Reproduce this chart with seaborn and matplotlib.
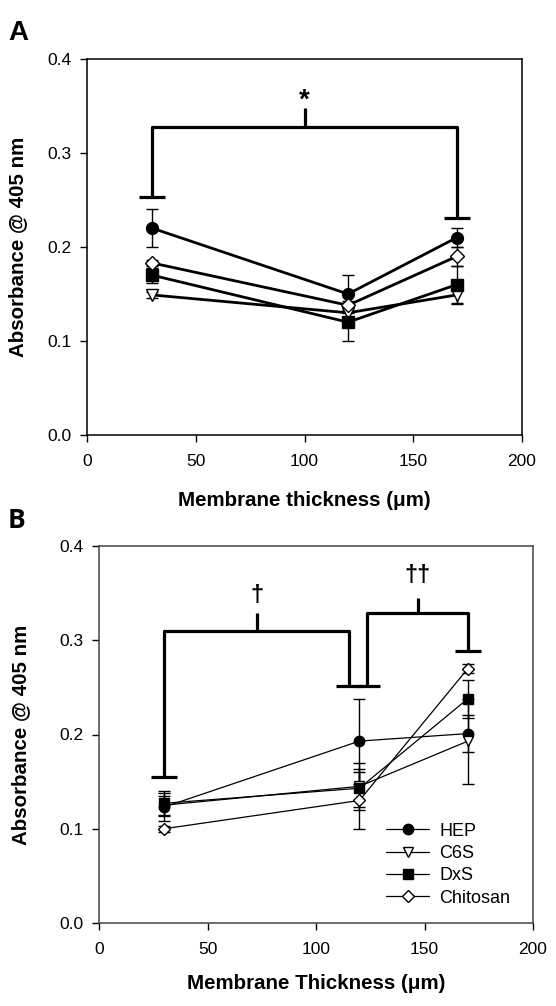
import matplotlib
matplotlib.use("Agg")
import matplotlib.pyplot as plt
import seaborn as sns
import numpy as np
import pandas as pd

# ---------------- data ----------------
thickness = [30, 120, 170]
series_names = ["HEP", "C6S", "DxS", "Chitosan"]

# Panel A values
a_hep = [0.220, 0.150, 0.210]
a_c6s = [0.149, 0.130, 0.149]
a_dxs = [0.170, 0.120, 0.160]
a_chi = [0.183, 0.138, 0.190]
a_hep_err = [0.020, 0.020, 0.010]
a_c6s_err = [0.003, 0.005, 0.010]
a_dxs_err = [0.008, 0.020, 0.020]
a_chi_err = [0.003, 0.005, 0.010]

# Panel B values
b_hep = [0.123, 0.193, 0.201]
b_c6s = [0.125, 0.145, 0.193]
b_dxs = [0.127, 0.143, 0.238]
b_chi = [0.100, 0.130, 0.270]
b_hep_err = [0.015, 0.045, 0.020]
b_c6s_err = [0.010, 0.025, 0.045]
b_dxs_err = [0.013, 0.020, 0.020]
b_chi_err = [0.003, 0.030, 0.005]

# significance brackets:
# (x_left, x_right, y_left_cap, y_right_cap, y_top, y_tick, label, label_y)
a_brackets = [(30, 170, 0.253, 0.231, 0.328, 0.348, "*", 0.356)]
b_brackets = [(30, 115.4, 0.155, 0.251, 0.310, 0.329, "\u2020", 0.347),
              (123.7, 170, 0.251, 0.289, 0.329, 0.345, "\u2020\u2020", 0.369)]

x_ticks = [0, 50, 100, 150, 200]
y_ticks = [0.0, 0.1, 0.2, 0.3, 0.4]

# ---------------- style ----------------
sns.set_theme(style="ticks")
plt.rcParams['font.family'] = ['Liberation Sans', 'DejaVu Sans']
for k in ['text.color', 'axes.labelcolor', 'xtick.color', 'ytick.color']:
    plt.rcParams[k] = 'black'

markers = {"HEP": ("o", "black"), "C6S": ("v", "white"),
           "DxS": ("s", "black"), "Chitosan": ("D", "white")}

fig = plt.figure(figsize=(5.56, 10.06), dpi=100)
axA = fig.add_axes([87/556, 1-435/1006, 435/556, 376/1006])
axB = fig.add_axes([99/556, 1-923/1006, 434/556, 377/1006])


def draw_panel(ax, vals, errs, lw, ms, elw, cap):
    for name in series_names:
        y = vals[name]
        e = errs[name]
        mk, fc = markers[name]
        ax.errorbar(thickness, y, yerr=e, fmt="none", ecolor="black",
                    elinewidth=elw, capsize=cap, capthick=elw, zorder=2)
        df = pd.DataFrame({"x": thickness, "y": y})
        msize = ms * (0.85 if mk == "D" else 1.0)
        sns.lineplot(data=df, x="x", y="y", ax=ax, color="black", lw=lw,
                     marker=mk, markersize=msize, markerfacecolor=fc,
                     markeredgecolor="black", markeredgewidth=1.0,
                     label=name, zorder=3, legend=False)


def draw_brackets(ax, brackets, caphalf, fs):
    for (xl, xr, yl, yr, yt, ytick, lab, ylab) in brackets:
        kw = dict(color="black", lw=2.3, solid_capstyle="butt", zorder=4)
        ax.plot([xl, xl, xr, xr], [yl, yt, yt, yr], **kw)
        ax.plot([xl - caphalf, xl + caphalf], [yl, yl], **kw)
        ax.plot([xr - caphalf, xr + caphalf], [yr, yr], **kw)
        xm = (xl + xr) / 2
        ax.plot([xm, xm], [yt, ytick], **kw)
        ax.text(xm, ylab, lab, ha="center", va="center",
                fontsize=fs, fontweight="bold", color="black")


def style_axes(ax, xlabel, spine_col, ylx, xly):
    ax.set_xlim(0, 200)
    ax.set_ylim(0, 0.4)
    ax.set_xticks(x_ticks)
    ax.set_yticks(y_ticks)
    ax.set_yticklabels([f"{v:.1f}" for v in y_ticks])
    ax.tick_params(axis="both", direction="out", length=5, width=1,
                   labelsize=12.5, colors="black")
    ax.tick_params(axis="x", pad=9)
    ax.tick_params(axis="y", pad=6)
    for s in ax.spines.values():
        s.set_visible(True)
        s.set_color(spine_col)
        s.set_linewidth(1.1)
    ax.set_xlabel(xlabel, fontsize=14.8, fontweight="bold", color="black")
    ax.set_ylabel("Absorbance @ 405 nm", fontsize=14.8, fontweight="bold",
                  color="black")
    ax.yaxis.set_label_coords(ylx, 0.5)
    ax.xaxis.set_label_coords(0.5, xly)
    ax.set_facecolor("white")


valsA = dict(zip(series_names, [a_hep, a_c6s, a_dxs, a_chi]))
errsA = dict(zip(series_names, [a_hep_err, a_c6s_err, a_dxs_err, a_chi_err]))
valsB = dict(zip(series_names, [b_hep, b_c6s, b_dxs, b_chi]))
errsB = dict(zip(series_names, [b_hep_err, b_c6s_err, b_dxs_err, b_chi_err]))

draw_panel(axA, valsA, errsA, lw=2.0, ms=8.5, elw=1.0, cap=4)
draw_brackets(axA, a_brackets, caphalf=6, fs=20)
style_axes(axA, "Membrane thickness (\u03bcm)", "black", -0.138, -0.15)

draw_panel(axB, valsB, errsB, lw=0.9, ms=7.5, elw=1.0, cap=4)
draw_brackets(axB, b_brackets, caphalf=6, fs=17)
style_axes(axB, "Membrane Thickness (\u03bcm)", "#444444", -0.159, -0.135)

handles, labels = axB.get_legend_handles_labels()
leg = axB.legend(handles, labels, loc="lower right", frameon=False,
                 fontsize=13, handlelength=2.4, handletextpad=0.55,
                 labelspacing=0.3, bbox_to_anchor=(0.985, 0.0))

fig.text(8/556, 1-40/1006, "A", fontsize=20, fontweight="bold", ha="left", va="baseline")
fig.text(8/556, 1-528/1006, "B", fontsize=19, fontweight="bold", ha="left", va="baseline",
         family=["Open Sans", "DejaVu Sans"])

fig.savefig("out.png", dpi=100, facecolor="white")
